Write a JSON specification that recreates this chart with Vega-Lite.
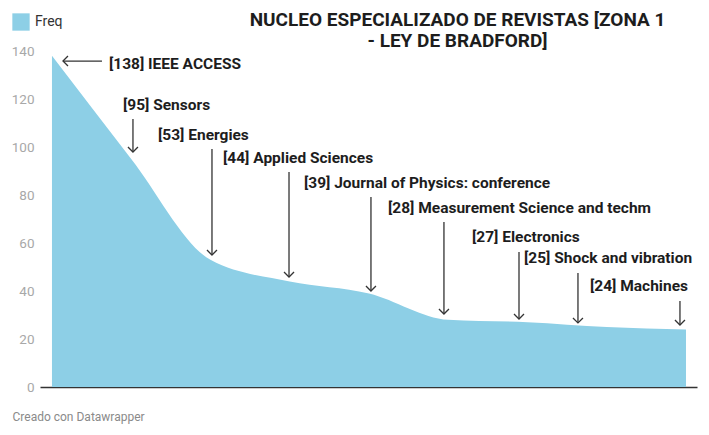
{
  "$schema": "https://vega.github.io/schema/vega-lite/v6.json",
  "width": 657,
  "height": 336,
  "autosize": "none",
  "padding": {"left": 40, "top": 51, "right": 12, "bottom": 48},
  "title": {
    "text": ["NUCLEO ESPECIALIZADO DE REVISTAS [ZONA 1", "- LEY DE BRADFORD]"],
    "anchor": "middle",
    "dx": 89,
    "dy": 38,
    "offset": 0,
    "fontSize": 19,
    "fontWeight": "bold",
    "lineHeight": 21,
    "color": "#1d1d1d"
  },
  "datasets": {
    "journals": [
      {"i": 0, "journal": "IEEE ACCESS", "freq": 138},
      {"i": 1, "journal": "Sensors", "freq": 95},
      {"i": 2, "journal": "Energies", "freq": 53},
      {"i": 3, "journal": "Applied Sciences", "freq": 44},
      {"i": 4, "journal": "Journal of Physics: conference", "freq": 39},
      {"i": 5, "journal": "Measurement Science and techm", "freq": 28},
      {"i": 6, "journal": "Electronics", "freq": 27},
      {"i": 7, "journal": "Shock and vibration", "freq": 25},
      {"i": 8, "journal": "Machines", "freq": 24}
    ],
    "arrows": [
      {"x": 0.631, "y": 135.8, "x2": 0.139, "y2": 135.8, "dir": "left"},
      {"x": 1.022, "y": 111.7, "x2": 1.022, "y2": 97.9, "dir": "down"},
      {"x": 2.019, "y": 99.2, "x2": 2.019, "y2": 55.0, "dir": "down"},
      {"x": 2.991, "y": 89.6, "x2": 2.991, "y2": 45.8, "dir": "down"},
      {"x": 4.025, "y": 79.2, "x2": 4.025, "y2": 40.0, "dir": "down"},
      {"x": 4.946, "y": 68.8, "x2": 4.946, "y2": 30.4, "dir": "down"},
      {"x": 5.893, "y": 56.3, "x2": 5.893, "y2": 28.3, "dir": "down"},
      {"x": 6.637, "y": 47.5, "x2": 6.637, "y2": 26.7, "dir": "down"},
      {"x": 7.924, "y": 35.8, "x2": 7.924, "y2": 25.8, "dir": "down"}
    ],
    "labels": [
      {"x": 0.719, "y": 134.6, "label": "[138] IEEE ACCESS"},
      {"x": 0.896, "y": 117.5, "label": "[95] Sensors"},
      {"x": 1.338, "y": 105.0, "label": "[53] Energies"},
      {"x": 2.158, "y": 95.4, "label": "[44] Applied Sciences"},
      {"x": 3.180, "y": 85.0, "label": "[39] Journal of Physics: conference"},
      {"x": 4.240, "y": 74.6, "label": "[28] Measurement Science and techm"},
      {"x": 5.300, "y": 62.5, "label": "[27] Electronics"},
      {"x": 5.956, "y": 53.8, "label": "[25] Shock and vibration"},
      {"x": 6.789, "y": 42.1, "label": "[24] Machines"}
    ]
  },
  "layer": [
    {
      "data": {"name": "journals"},
      "mark": {"type": "area", "interpolate": "monotone"},
      "encoding": {
        "x": {
          "field": "i",
          "type": "quantitative",
          "scale": {"domain": [-0.151, 8.139], "nice": false, "zero": false},
          "axis": {
            "title": "Creado con Datawrapper",
            "labels": false,
            "ticks": false,
            "grid": false,
            "domain": true,
            "domainColor": "#333333",
            "domainWidth": 1.5,
            "titleAnchor": "start",
            "titleAlign": "left",
            "titleBaseline": "middle",
            "titleX": -28,
            "titleY": 29,
            "titleFontSize": 12,
            "titleFontWeight": "normal",
            "titleColor": "#8a8a8a"
          }
        },
        "y": {
          "field": "freq",
          "type": "quantitative",
          "scale": {"domain": [0, 140], "nice": false},
          "axis": {
            "title": null,
            "values": [0, 20, 40, 60, 80, 100, 120, 140],
            "grid": false,
            "ticks": false,
            "domain": false,
            "labelColor": "#a8a8a8",
            "labelFontSize": 13.5,
            "labelPadding": 6
          }
        },
        "color": {
          "datum": "Freq",
          "scale": {"range": ["#8dcfe6"]},
          "legend": {
            "title": null,
            "orient": "none",
            "legendX": -28,
            "legendY": -38,
            "symbolType": "square",
            "symbolSize": 300,
            "symbolStrokeWidth": 0,
            "labelFontSize": 14,
            "labelOffset": 5,
            "labelColor": "#333333"
          }
        }
      }
    },
    {
      "data": {"name": "arrows"},
      "mark": {"type": "rule", "color": "#333333", "strokeWidth": 1.3},
      "encoding": {
        "x": {"field": "x", "type": "quantitative"},
        "y": {"field": "y", "type": "quantitative"},
        "x2": {"field": "x2"},
        "y2": {"field": "y2"}
      }
    },
    {
      "data": {"name": "arrows"},
      "mark": {"type": "point", "filled": false, "stroke": "#333333", "strokeWidth": 1.3, "size": 100, "opacity": 1},
      "encoding": {
        "x": {"field": "x2", "type": "quantitative"},
        "y": {"field": "y2", "type": "quantitative"},
        "shape": {
          "field": "dir",
          "type": "nominal",
          "scale": {"domain": ["down", "left"], "range": ["M-1,-1L0,0L1,-1", "M1,-1L0,0L1,1"]},
          "legend": null
        }
      }
    },
    {
      "data": {"name": "labels"},
      "mark": {"type": "text", "align": "left", "baseline": "middle", "fontSize": 15.5, "fontWeight": "bold", "color": "#1d1d1d"},
      "encoding": {
        "x": {"field": "x", "type": "quantitative"},
        "y": {"field": "y", "type": "quantitative"},
        "text": {"field": "label"}
      }
    }
  ],
  "config": {
    "font": "Roboto",
    "view": {"stroke": null}
  }
}
